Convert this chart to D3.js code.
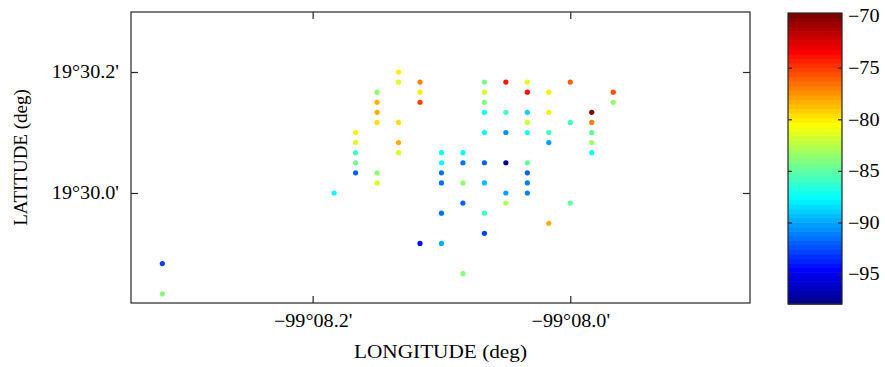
<!DOCTYPE html>
<html><head><meta charset="utf-8">
<script src="https://cdn.jsdelivr.net/npm/d3@7"></script>
<style>
body{margin:0;background:#fff}
text{font-family:"Liberation Serif","Times New Roman",serif;fill:#000}
</style>
</head><body>
<svg id="c" width="885" height="367"></svg>
<script>
// Positions in arc-seconds: longitude = -(99°08' + lonSec"), latitude = 19°30' + latSec"
const lonSec = [19,19,11,10,10,10,10,10,9,9,9,9,9,9,8,8,8,8,8,7,7,7,7,6,6,6,6,6,6,5,5,5,5,5,
  4,4,4,4,4,4,4,4,4,3,3,3,3,3,3,2,2,2,2,2,2,2,2,2,1,1,1,1,1,0,0,0,-1,-1,-1,-1,-1,-2,-2];
const latSec = [-7,-10,0,6,5,4,3,2,10,9,8,7,2,1,12,11,7,5,4,11,10,9,-5,4,3,2,1,-2,-5,4,3,1,-1,-8,
  11,10,9,8,6,3,1,-2,-4,11,8,6,3,0,-1,11,10,8,7,6,3,2,1,0,10,8,6,5,-3,11,7,-1,8,7,6,5,4,10,9];
const rssi = [-93,-84,-87.5,-80,-81.5,-86,-84.5,-92,-83.8,-78.5,-78.5,-79.5,-83.5,-81.5,
  -80,-81.5,-79.5,-78.5,-81.5,-77,-80,-75.3,-94,-87.5,-87.5,-91.5,-91.3,-91.3,-89.7,
  -87.5,-91.5,-83.5,-92,-84,
  -84.5,-82,-84,-87.3,-87.5,-92,-89.5,-86,-93,
  -73.8,-86,-90.5,-97.9,-90.3,-82.5,
  -81.5,-74,-88.7,-82,-87.3,-85,-92,-91,-91,
  -80,-80,-86,-90,-78.5,
  -76.2,-86,-85,
  -69.7,-77,-85,-83,-87.5,
  -75.5,-83.5];

const xTicks = [-(99 + 8.2/60), -(99 + 8.0/60)];
const xTickLabels = ["\u221299\u00b008.2'", "\u221299\u00b008.0'"];
const yTicks = [19 + 30.0/60, 19 + 30.2/60];
const yTickLabels = ["19\u00b030.0'", "19\u00b030.2'"];
const cTicks = [-95, -90, -85, -80, -75, -70];
const cTickLabels = ["\u221295", "\u221290", "\u221285", "\u221280", "\u221275", "\u221270"];
const cLimits = [-97.9, -69.7];
const xDomainSec = [20.46, -8.37];
const yDomainSec = [-10.91, 17.95];

const toLon = s => -(99 + 8/60 + s/3600);
const toLat = s => 19 + 30/60 + s/3600;

const svg = d3.select("#c");
svg.append("rect").attr("width",885).attr("height",367).attr("fill","#fff");

const L = 131, R = 750, T = 12, B = 303;
const x = d3.scaleLinear().domain(xDomainSec.map(toLon)).range([L, R]);
const y = d3.scaleLinear().domain(yDomainSec.map(toLat)).range([B, T]);

// MATLAB jet(64)
function U(k){ if(k<1||k>47) return 0; if(k<=16) return k/16; if(k<=31) return 1; return (48-k)/16; }
function jet64(i){ // i 1..64
  return d3.rgb(255*U(i-24), 255*U(i-8), 255*U(i+8)).toString();
}
const cIndex = v => Math.max(1, Math.min(64, Math.floor((v - cLimits[0])/(cLimits[1]-cLimits[0])*64) + 1));

const sx = 1.12;
const FS = 18;

// points
const pts = rssi.map((v,i)=>({lon: toLon(lonSec[i]), lat: toLat(latSec[i]), v}));
svg.append("g").selectAll("circle").data(pts).join("circle")
  .attr("cx", d=>x(d.lon)).attr("cy", d=>y(d.lat)).attr("r", 2.6)
  .attr("fill", d=>jet64(cIndex(d.v)));

// box
svg.append("rect").attr("x",L).attr("y",T).attr("width",R-L).attr("height",B-T)
  .attr("fill","none").attr("stroke","#262626").attr("stroke-width",1.2);

function styleAxis(g){
  g.select(".domain").remove();
  g.selectAll("line").attr("stroke","#262626").attr("stroke-width",1.2);
}
const ax = d3.axisBottom(x).tickValues(xTicks).tickFormat((d,i)=>xTickLabels[i]).tickSizeInner(-7).tickSizeOuter(0).tickPadding(11);
const gx = svg.append("g").attr("transform",`translate(0,${B})`).call(ax).call(styleAxis);
gx.selectAll("text").attr("font-size",FS).attr("font-family",null).attr("transform",`scale(${sx},1)`);
svg.append("g").attr("transform",`translate(0,${T})`)
  .call(d3.axisTop(x).tickValues(xTicks).tickFormat("").tickSizeInner(-7).tickSizeOuter(0)).call(styleAxis);

const ay = d3.axisLeft(y).tickValues(yTicks).tickFormat((d,i)=>yTickLabels[i]).tickSizeInner(-7).tickSizeOuter(0).tickPadding(12);
const gy = svg.append("g").attr("transform",`translate(${L},0)`).call(ay).call(styleAxis);
gy.selectAll("text").attr("font-size",FS).attr("font-family",null).attr("transform",`scale(${sx},1)`).attr("x",-12/sx);
svg.append("g").attr("transform",`translate(${R},0)`)
  .call(d3.axisRight(y).tickValues(yTicks).tickFormat("").tickSizeInner(-7).tickSizeOuter(0)).call(styleAxis);

// axis titles
svg.append("text").attr("transform",`translate(${(L+R)/2},358) scale(${sx},1)`)
  .attr("text-anchor","middle").attr("font-size",FS+1).text("LONGITUDE (deg)");
svg.append("text").attr("transform",`translate(27,${(T+B)/2}) rotate(-90)`)
  .attr("text-anchor","middle").attr("font-size",FS+1).text("LATITUDE (deg)");

// colorbar
const CL = 788, CR = 842, CT = 13, CB = 304;
const cy = d3.scaleLinear().domain(cLimits).range([CB, CT]);
const bands = d3.range(1,65);
svg.append("g").selectAll("rect").data(bands).join("rect")
  .attr("x",CL).attr("width",CR-CL)
  .attr("y", i=>cy(cLimits[0] + i*(cLimits[1]-cLimits[0])/64))
  .attr("height", (CB-CT)/64 + 0.6)
  .attr("fill", i=>jet64(i));
svg.append("rect").attr("x",CL).attr("y",CT).attr("width",CR-CL).attr("height",CB-CT)
  .attr("fill","none").attr("stroke","#262626").attr("stroke-width",1.2);
const gc = svg.append("g").attr("transform",`translate(${CR},0)`)
  .call(d3.axisRight(cy).tickValues(cTicks).tickFormat((d,i)=>cTickLabels[i]).tickSizeInner(-4).tickSizeOuter(0).tickPadding(8))
  .call(styleAxis);
gc.selectAll("text").attr("font-size",FS).attr("font-family",null).attr("transform",`scale(${sx},1)`).attr("x",6/sx);
svg.append("g").attr("transform",`translate(${CL},0)`)
  .call(d3.axisLeft(cy).tickValues(cTicks).tickFormat("").tickSizeInner(-4).tickSizeOuter(0)).call(styleAxis);
</script>
</body></html>
